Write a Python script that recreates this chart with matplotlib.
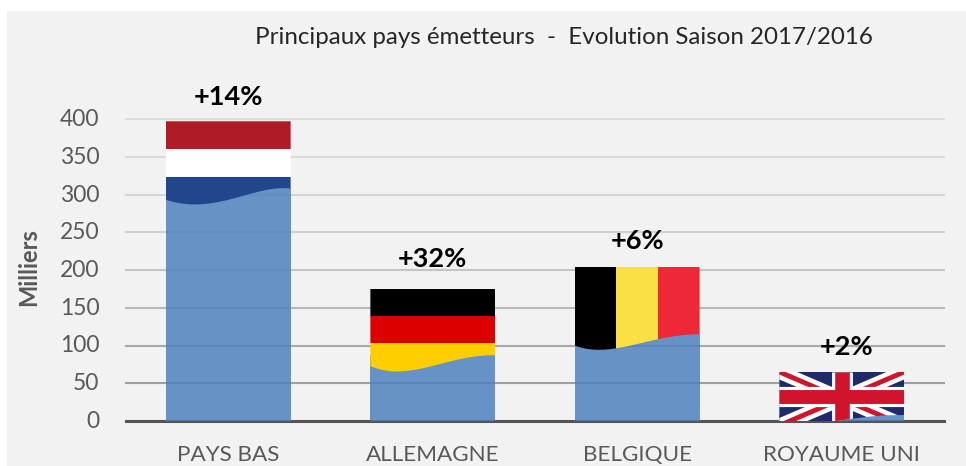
import numpy as np
import matplotlib
matplotlib.use("Agg")
import matplotlib.pyplot as plt
from matplotlib.patches import Rectangle, PathPatch
from matplotlib.path import Path
from matplotlib.transforms import ScaledTranslation

plt.rcParams['font.family'] = ['Lato', 'DejaVu Sans']

W, H = 966, 466
categories = ["PAYS BAS", "ALLEMAGNE", "BELGIQUE", "ROYAUME UNI"]
bar_values = [308, 87, 115, 8]
flag_tops = [397, 175, 204, 65]
growth_labels = ["+14%", "+32%", "+6%", "+2%"]
label_heights = [429, 214, 239, 98]
wave_positions = [0, 0.27, 0.5, 0.75, 1]
wave_nl = [293, 287, 293, 304, 308]
wave_de = [73, 66, 73, 83, 87]
wave_be = [100, 95, 102, 111, 115]
wave_uk = [0, -4, 1, 6, 8]
y_ticks = [0, 50, 100, 150, 200, 250, 300, 350, 400]
grid_colors = ['#555555', '#a0a0a0', '#a8a8a8', '#b8b8b8', '#c4c4c4',
               '#d0d0d0', '#d6d6d6', '#dadada', '#dddddd']

fig = plt.figure(figsize=(W / 100, H / 100), dpi=100, facecolor='white')
fig.patches.append(Rectangle((7 / W, 0), 1 - 7 / W, 1 - 11 / H, transform=fig.transFigure,
                             facecolor='#f2f2f2', edgecolor='none', zorder=-10))
ax = fig.add_axes([126 / W, 1 - 421 / H, 818 / W, 302 / H])
ax.patch.set_visible(False)
ax.set_xlim(-0.5, 3.5)
ax.set_ylim(0, 400)
for s in ax.spines.values():
    s.set_visible(False)

for v, c in zip(y_ticks, grid_colors):
    ax.axhline(v, color=c, lw=2.2 if v == 0 else 1.5, zorder=1, clip_on=False)

BW = 0.61
x = np.arange(len(categories))
ax.bar(x, bar_values, width=BW, color='#4f81bd', alpha=0.85, zorder=2)


def flag_clip(i, top, wave):
    t = np.linspace(0, 1, 60)
    low = np.polyval(np.polyfit(wave_positions, wave, 4), t)
    xs = x[i] - BW / 2 + BW * t
    verts = [(xs[0], top), (xs[-1], top)] + list(zip(xs[::-1], low[::-1])) + [(xs[0], top)]
    codes = [Path.MOVETO] + [Path.LINETO] * (len(verts) - 2) + [Path.CLOSEPOLY]
    return PathPatch(Path(verts, codes), transform=ax.transData)


def stripes(i, clip, edges, colors, horizontal=True):
    for k, c in enumerate(colors):
        if horizontal:
            r = Rectangle((x[i] - BW / 2, edges[k + 1]), BW, edges[k] - edges[k + 1],
                          facecolor=c, edgecolor='none', zorder=3)
        else:
            r = Rectangle((edges[k], 0), edges[k + 1] - edges[k], flag_tops[i],
                          facecolor=c, edgecolor='none', zorder=3)
        ax.add_patch(r)
        r.set_clip_path(clip)


stripes(0, flag_clip(0, flag_tops[0], wave_nl), [397, 360, 323, 250],
        ['#ae1c28', '#ffffff', '#21468b'])
stripes(1, flag_clip(1, flag_tops[1], wave_de), [175, 139, 103, 50],
        ['#000000', '#dd0000', '#ffce00'])
be_edges = [x[2] - BW / 2 + BW * f for f in (0, 1 / 3, 2 / 3, 1)]
stripes(2, flag_clip(2, flag_tops[2], wave_be), be_edges,
        ['#000000', '#fae042', '#ed2939'], horizontal=False)

# Union Jack
clip = flag_clip(3, flag_tops[3], wave_uk)
x0, x1 = x[3] - BW / 2, x[3] + BW / 2
y0, y1 = -6, flag_tops[3]
bg = Rectangle((x0, y0), BW, y1 - y0, facecolor='#1f2a6b', edgecolor='none', zorder=3)
ax.add_patch(bg)
bg.set_clip_path(clip)
items = []
for a, b in [((x0, y0), (x1, y1)), ((x0, y1), (x1, y0))]:
    items += ax.plot([a[0], b[0]], [a[1], b[1]], color='white', lw=10, zorder=3.1, solid_capstyle='butt')
    items += ax.plot([a[0], b[0]], [a[1], b[1]], color='#cf142b', lw=3.5, zorder=3.2, solid_capstyle='butt')
xc, yc = x[3], 32
items += ax.plot([xc, xc], [y0, y1], color='white', lw=15, zorder=3.3, solid_capstyle='butt')
items += ax.plot([x0, x1], [yc, yc], color='white', lw=14.5, zorder=3.3, solid_capstyle='butt')
items += ax.plot([xc, xc], [y0, y1], color='#cf142b', lw=10.5, zorder=3.4, solid_capstyle='butt')
items += ax.plot([x0, x1], [yc, yc], color='#cf142b', lw=10, zorder=3.4, solid_capstyle='butt')
for it in items:
    it.set_clip_path(clip)

for i, (lab, h) in enumerate(zip(growth_labels, label_heights)):
    ax.text(x[i] + (0.025 if i == 3 else 0), h, lab, ha='center', va='center', fontsize=19.5,
            fontweight='bold', color='black', zorder=5, clip_on=False)

ax.set_yticks(y_ticks)
ax.set_xticks(x)
ax.set_xticklabels(categories)
ax.tick_params(axis='y', length=0, labelsize=16.5, labelcolor='#595959', pad=19)
ax.tick_params(axis='x', length=0, labelsize=16.2, labelcolor='#595959', pad=17)
shift = ScaledTranslation(0, 1.5 / 100, fig.dpi_scale_trans)
for lab in ax.get_yticklabels():
    lab.set_transform(lab.get_transform() + shift)

fig.text(29 / W, 1 - 267 / H, "Milliers", rotation=90, ha='center', va='center',
         fontsize=17, fontweight='bold', color='#595959')
fig.text(564 / W, 1 - 37 / H, "Principaux pays émetteurs  -  Evolution Saison 2017/2016",
         ha='center', va='center', fontsize=17.4, color='#262626')

fig.savefig("out.png", dpi=100, facecolor=fig.get_facecolor())
